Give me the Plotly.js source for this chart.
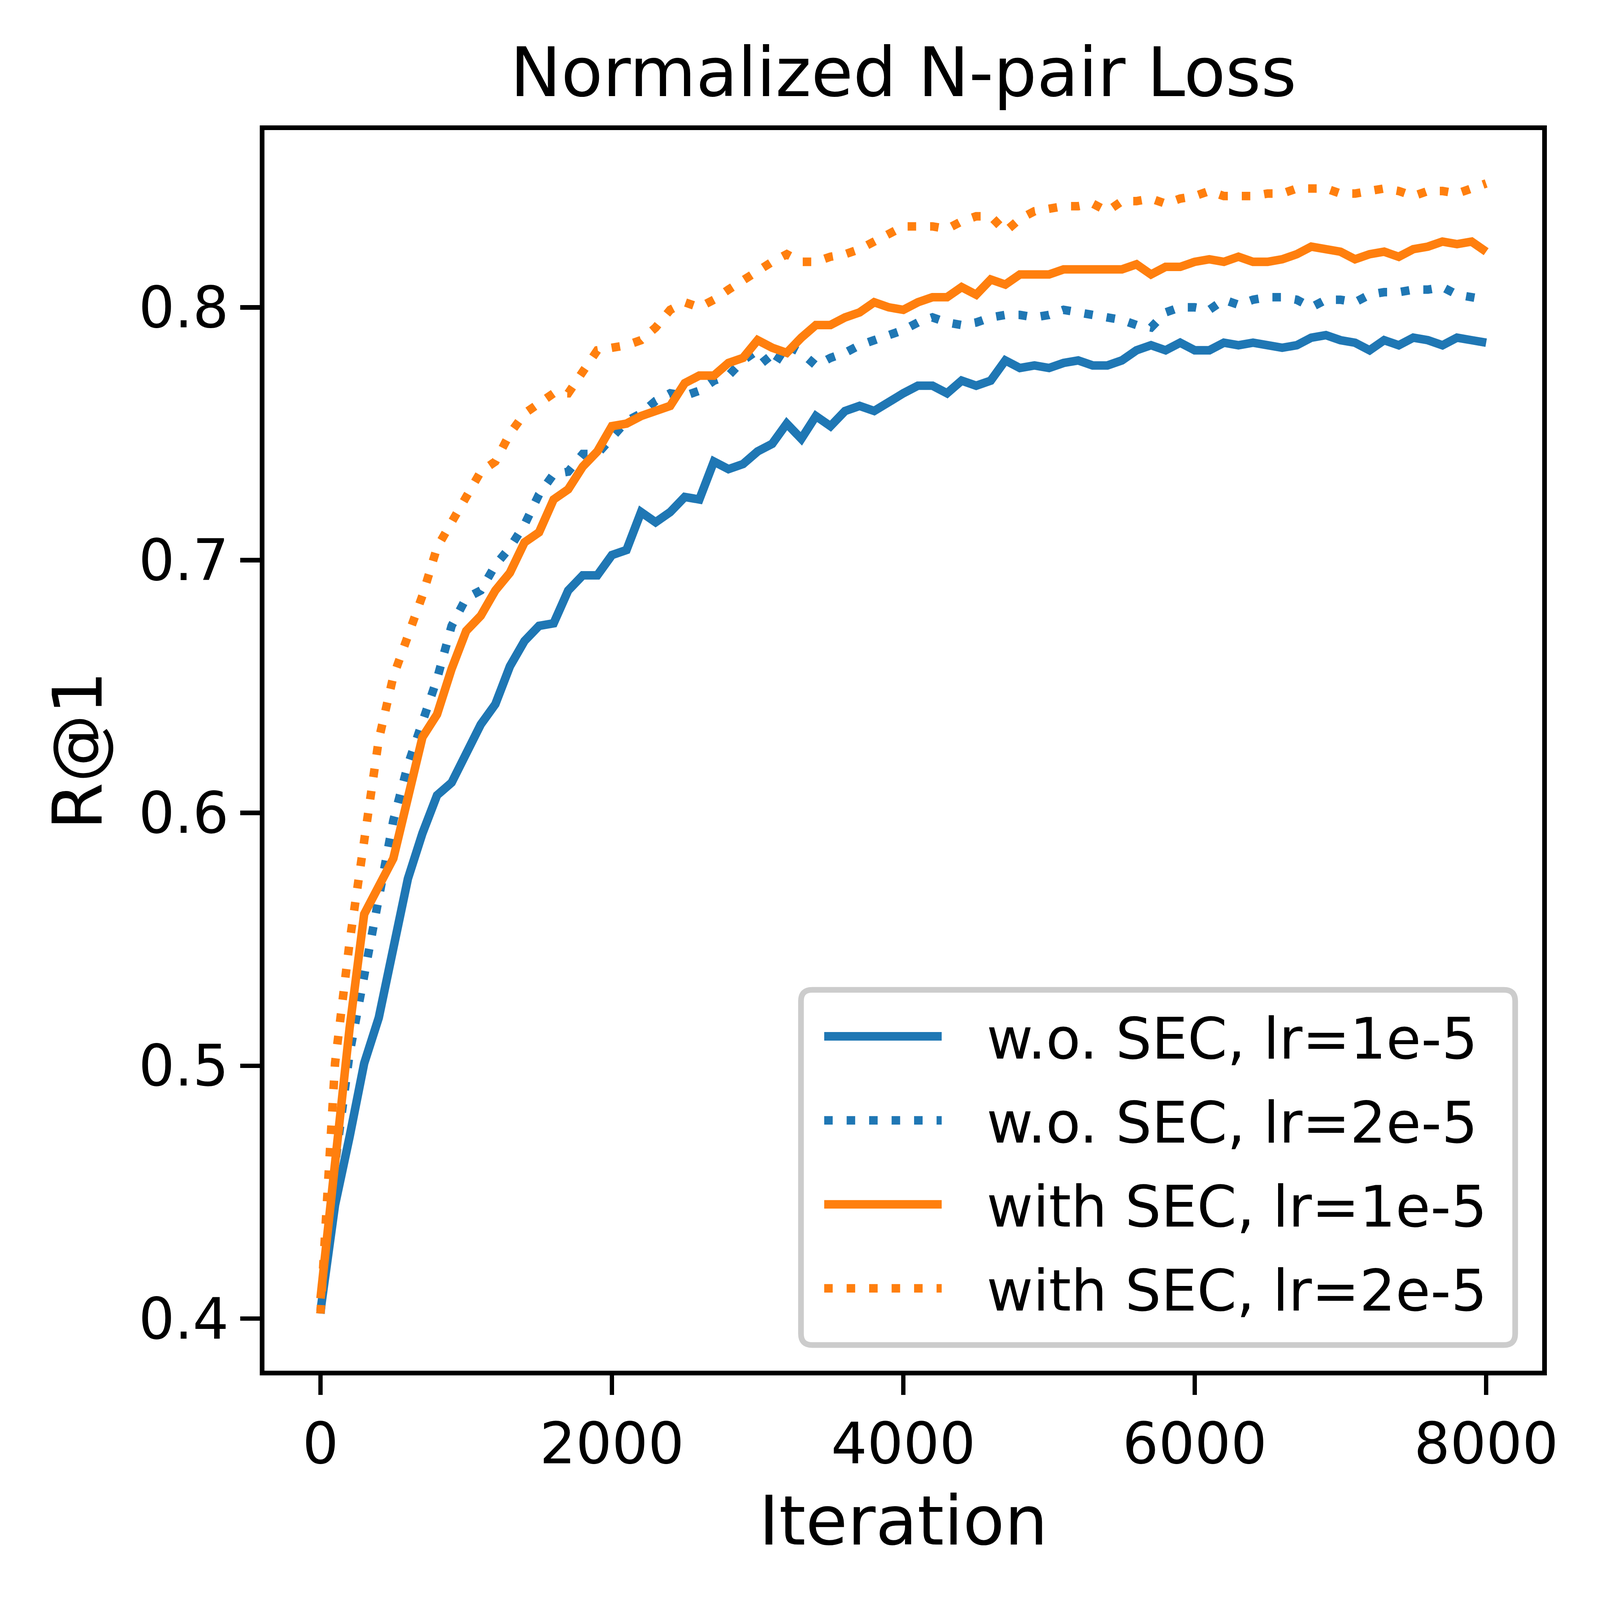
<!DOCTYPE html>
<html>
<head>
<meta charset="utf-8">
<script src="https://cdn.plot.ly/plotly-3.0.1.min.js"></script>
<style>html,body{margin:0;padding:0;background:#fff;overflow:hidden;}</style>
</head>
<body>
<div id="chart"></div>
<script>
// ---------------- data ----------------
var iterations = [0,100,200,300,400,500,600,700,800,900,1000,1100,1200,1300,1400,1500,1600,1700,1800,1900,
  2000,2100,2200,2300,2400,2500,2600,2700,2800,2900,3000,3100,3200,3300,3400,3500,3600,3700,3800,3900,
  4000,4100,4200,4300,4400,4500,4600,4700,4800,4900,5000,5100,5200,5300,5400,5500,5600,5700,5800,5900,
  6000,6100,6200,6300,6400,6500,6600,6700,6800,6900,7000,7100,7200,7300,7400,7500,7600,7700,7800,7900,8000];

var woSEC_lr1e5 = [0.403,0.445,0.472,0.501,0.519,0.546,0.574,0.592,0.607,0.612,
  0.623,0.635,0.643,0.658,0.668,0.674,0.675,0.688,0.694,0.694,
  0.702,0.704,0.719,0.715,0.719,0.725,0.724,0.739,0.736,0.738,
  0.743,0.746,0.754,0.748,0.757,0.753,0.759,0.761,0.759,0.763,
  0.766,0.769,0.769,0.766,0.771,0.769,0.771,0.779,0.776,0.777,
  0.776,0.778,0.779,0.777,0.777,0.779,0.783,0.785,0.783,0.786,
  0.783,0.783,0.786,0.785,0.786,0.785,0.784,0.785,0.788,0.789,
  0.787,0.786,0.783,0.787,0.785,0.788,0.787,0.785,0.788,0.787,0.786];

var woSEC_lr2e5 = [0.402,0.461,0.505,0.535,0.567,0.597,0.619,0.636,0.653,0.674,
  0.685,0.688,0.698,0.705,0.714,0.726,0.734,0.735,0.742,0.742,
  0.748,0.755,0.758,0.763,0.766,0.765,0.767,0.771,0.773,0.779,
  0.783,0.776,0.785,0.782,0.777,0.780,0.782,0.785,0.787,0.789,
  0.791,0.794,0.796,0.794,0.793,0.794,0.796,0.797,0.797,0.796,
  0.797,0.799,0.798,0.797,0.796,0.795,0.793,0.792,0.798,0.800,
  0.800,0.799,0.803,0.801,0.803,0.804,0.804,0.803,0.800,0.803,
  0.803,0.802,0.805,0.806,0.806,0.807,0.807,0.808,0.805,0.804,0.803];

var withSEC_lr1e5 = [0.408,0.465,0.515,0.560,0.571,0.582,0.606,0.630,0.639,0.657,
  0.672,0.678,0.688,0.695,0.707,0.711,0.724,0.728,0.737,0.743,
  0.753,0.754,0.757,0.759,0.761,0.770,0.773,0.773,0.778,0.780,
  0.787,0.784,0.782,0.788,0.793,0.793,0.796,0.798,0.802,0.800,
  0.799,0.802,0.804,0.804,0.808,0.805,0.811,0.809,0.813,0.813,
  0.813,0.815,0.815,0.815,0.815,0.815,0.817,0.813,0.816,0.816,
  0.818,0.819,0.818,0.820,0.818,0.818,0.819,0.821,0.824,0.823,
  0.822,0.819,0.821,0.822,0.820,0.823,0.824,0.826,0.825,0.826,0.822];

var withSEC_lr2e5 = [0.402,0.501,0.549,0.590,0.629,0.654,0.670,0.686,0.705,0.715,
  0.725,0.735,0.739,0.750,0.758,0.762,0.766,0.766,0.775,0.783,
  0.784,0.785,0.787,0.792,0.799,0.802,0.800,0.803,0.807,0.811,
  0.815,0.818,0.821,0.818,0.818,0.820,0.821,0.823,0.826,0.829,
  0.832,0.832,0.832,0.831,0.834,0.836,0.836,0.830,0.835,0.838,
  0.839,0.840,0.840,0.841,0.838,0.842,0.842,0.843,0.841,0.843,
  0.844,0.846,0.844,0.844,0.844,0.845,0.845,0.847,0.847,0.847,
  0.845,0.845,0.846,0.847,0.846,0.844,0.846,0.846,0.845,0.847,0.849];

var seriesNames = ['w.o. SEC, lr=1e-5', 'w.o. SEC, lr=2e-5', 'with SEC, lr=1e-5', 'with SEC, lr=2e-5'];
var xTickVals = [0, 2000, 4000, 6000, 8000];
var xTickText = ['0', '2000', '4000', '6000', '8000'];
var yTickVals = [0.4, 0.5, 0.6, 0.7, 0.8];
var yTickText = ['0.4', '0.5', '0.6', '0.7', '0.8'];

// ---------------- style (designed for 4698px, scaled to the viewport) ----------------
var REF = 4698;
var VW = window.innerWidth || REF, VH = window.innerHeight || REF;
var S = Math.min(VW, VH) / REF;
function s(v) { return v * S; }
var BLUE = '#1f77b4', ORANGE = '#ff7f0e';
var LW = s(25);
var SPINE = s(13.3);
var DOT = s(25) + 'px,' + s(41) + 'px';
var FONT = 'DejaVu Sans, sans-serif';
var W = s(REF), H = s(REF);
// axes box (spine centres) in reference px; plotly draws its axis line outside the
// plot area, so the plot area is inset by half a spine width and the range widened to match
var boxL = s(770), boxR = s(4535), boxT = s(375), boxB = s(4031);
var inset = SPINE / 2;
var M = {l: boxL + inset, r: W - boxR + inset, t: boxT + inset, b: H - boxB + inset, pad: 0};
var plotW = W - M.l - M.r, plotH = H - M.t - M.b;
var xFull = [-400, 8400], yFull = [0.3785, 0.871];
var xPerPx = (xFull[1] - xFull[0]) / (boxR - boxL), yPerPx = (yFull[1] - yFull[0]) / (boxB - boxT);
var xRange = [xFull[0] + inset * xPerPx, xFull[1] - inset * xPerPx];
var yRange = [yFull[0] + inset * yPerPx, yFull[1] - inset * yPerPx];

function mk(y, name, color, dash, grp) {
  return {x: iterations, y: y, name: name, type: 'scatter', mode: 'lines',
          legendgroup: grp,
          line: {color: color, width: LW, dash: dash}};
}
var data = [
  mk(woSEC_lr1e5, seriesNames[0], BLUE, 'solid', 'a'),
  mk(woSEC_lr2e5, seriesNames[1], BLUE, DOT, 'b'),
  mk(withSEC_lr1e5, seriesNames[2], ORANGE, 'solid', 'c'),
  mk(withSEC_lr2e5, seriesNames[3], ORANGE, DOT, 'd')
];

// legend frame (rounded), reference pixel coords
var fL = s(2352), fR = s(4449), fT = s(2906), fB = s(3949), rad = s(33);
function px(xp) { return (xp - M.l) / plotW; }
function py(yp) { return (H - M.b - yp) / plotH; }
var framePath = 'M' + px(fL + rad) + ',' + py(fT) +
  ' L' + px(fR - rad) + ',' + py(fT) +
  ' Q' + px(fR) + ',' + py(fT) + ' ' + px(fR) + ',' + py(fT + rad) +
  ' L' + px(fR) + ',' + py(fB - rad) +
  ' Q' + px(fR) + ',' + py(fB) + ' ' + px(fR - rad) + ',' + py(fB) +
  ' L' + px(fL + rad) + ',' + py(fB) +
  ' Q' + px(fL) + ',' + py(fB) + ' ' + px(fL) + ',' + py(fB - rad) +
  ' L' + px(fL) + ',' + py(fT + rad) +
  ' Q' + px(fL) + ',' + py(fT) + ' ' + px(fL + rad) + ',' + py(fT) + ' Z';

// desired legend geometry (reference px)
var txtLeft = s(2897), handleLen = s(345), handleGap = s(132);
var rowY = [s(3050), s(3296), s(3544), s(3790)];

var axisCommon = {
  showgrid: false, zeroline: false,
  showline: true, linecolor: '#000', linewidth: SPINE, mirror: true,
  ticks: 'outside', ticklen: s(58), tickwidth: SPINE, tickcolor: '#000',
  tickfont: {family: FONT, size: s(166.7), color: '#000'}
};

var layout = {
  width: W, height: H,
  margin: M,
  paper_bgcolor: '#fff', plot_bgcolor: '#fff',
  font: {family: FONT, color: '#000'},
  showlegend: true,
  title: {text: 'Normalized N-pair Loss', font: {family: FONT, size: s(200), color: '#000'},
          x: 0.5, xref: 'paper', xanchor: 'center', y: 1, yref: 'paper', yanchor: 'bottom', pad: {b: s(100)}},
  xaxis: Object.assign({}, axisCommon, {
    range: xRange, tickmode: 'array', tickvals: xTickVals, ticktext: xTickText,
    title: {text: 'Iteration', font: {family: FONT, size: s(200), color: '#000'}, standoff: s(67)}
  }),
  yaxis: Object.assign({}, axisCommon, {
    range: yRange, tickmode: 'array', tickvals: yTickVals, ticktext: yTickText,
    title: {text: 'R@1', font: {family: FONT, size: s(200), color: '#000'}, standoff: s(45)}
  }),
  legend: {
    x: px(fL + s(40)), y: py(fT + s(40)), xanchor: 'left', yanchor: 'top',
    bgcolor: 'rgba(0,0,0,0)', borderwidth: 0,
    font: {family: FONT, size: s(166.7), color: '#000'},
    itemwidth: Math.max(30, handleLen + handleGap - 10), tracegroupgap: s(27), traceorder: 'grouped'
  },
  shapes: [{type: 'path', xref: 'paper', yref: 'paper', path: framePath,
            fillcolor: 'rgba(255,255,255,0.8)', line: {color: '#cccccc', width: s(16.7)}, layer: 'above'}]
};

var gd = document.getElementById('chart');

function legendItems() { return gd.querySelectorAll('.legend .traces'); }
function textRect(i) { return legendItems()[i].querySelector('text.legendtext').getBoundingClientRect(); }
function mid(r) { return (r.top + r.bottom) / 2; }

function fixHandles() {
  var items = legendItems();
  for (var i = 0; i < items.length; i++) {
    var g = items[i];
    var p = g.querySelector('.legendlines path');
    var t = g.querySelector('text.legendtext');
    if (!p || !t) continue;
    var tr = t.getBoundingClientRect();
    var m = p.getScreenCTM();
    var x0 = (tr.left - handleGap - handleLen - m.e) / m.a;
    var len = handleLen / m.a;
    p.setAttribute('d', 'M' + x0 + ',0h' + len);
    p.style.strokeWidth = (LW / m.a) + 'px';
    p.style.strokeDasharray = (i % 2 === 1) ? ((s(25) / m.a) + 'px,' + (s(41) / m.a) + 'px') : 'none';
  }
}

Plotly.newPlot(gd, data, layout, {staticPlot: true, displayModeBar: false}).then(function () {
  var r0 = textRect(0), r1 = textRect(1), r3 = textRect(3);
  var gr = gd.getBoundingClientRect();
  var curStep = (mid(r3) - mid(r0)) / 3;
  var wantStep = (rowY[3] - rowY[0]) / 3;
  var dx = txtLeft - (r0.left - gr.left);
  var dy = rowY[0] - (mid(r0) - gr.top);
  var newGap = Math.max(0, layout.legend.tracegroupgap + (wantStep - curStep));
  return Plotly.relayout(gd, {
    'legend.x': layout.legend.x + dx / plotW,
    'legend.y': layout.legend.y - dy / plotH,
    'legend.tracegroupgap': newGap
  });
}).then(function () {
  // second pass to settle the first row position after the gap change
  var r0 = textRect(0);
  var gr = gd.getBoundingClientRect();
  var dx = txtLeft - (r0.left - gr.left);
  var dy = rowY[0] - (mid(r0) - gr.top);
  if (Math.abs(dx) > 0.5 || Math.abs(dy) > 0.5) {
    return Plotly.relayout(gd, {
      'legend.x': gd._fullLayout.legend.x + dx / plotW,
      'legend.y': gd._fullLayout.legend.y - dy / plotH
    });
  }
}).then(function () {
  fixHandles();
});
</script>
</body>
</html>
